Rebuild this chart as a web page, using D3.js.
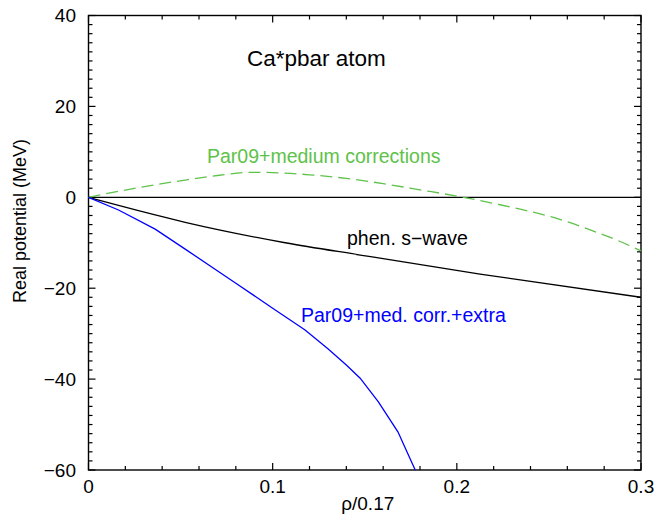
<!DOCTYPE html>
<html>
<head>
<meta charset="utf-8">
<script src="https://cdn.jsdelivr.net/npm/d3@7/dist/d3.min.js"></script>
<style>
  html, body { margin: 0; padding: 0; background: #fff; }
  svg text { font-family: "Liberation Sans", Arial, Helvetica, sans-serif; }
</style>
</head>
<body>
<svg id="chart" width="658" height="524"></svg>
<script>
// Real part of the antiproton optical potential for Ca, versus relative density
const xTicks = [0, 0.1, 0.2, 0.3];
const yTicks = [-60, -40, -20, 0, 20, 40];

const phenRho = [0, 0.0163, 0.0525, 0.1068, 0.1475, 0.2126, 0.3];
const phenV   = [0, -1.8, -5.5, -10.0, -12.7, -16.9, -22.0];

const medRho = [0, 0.02, 0.04, 0.0525, 0.07, 0.0887, 0.105, 0.12, 0.14, 0.16, 0.18, 0.2036, 0.22, 0.2344, 0.255, 0.2742, 0.29, 0.3];
const medV   = [0, 1.6, 3.0, 3.8, 4.8, 5.5, 5.35, 4.95, 4.15, 3.0, 1.65, 0, -1.35, -2.6, -4.75, -7.45, -9.95, -11.8];

const extraRho = [0, 0.0163, 0.0362, 0.0525, 0.0796, 0.1, 0.1176, 0.13, 0.14, 0.1475, 0.1574, 0.168, 0.1774];
const extraV   = [0, -2.8, -7.0, -11.4, -18.8, -24.4, -29.2, -33.3, -36.9, -39.8, -45.0, -51.6, -60];

const svg = d3.select("#chart");
const m = { left: 88.5, top: 15.5, right: 641, bottom: 470 };

const x = d3.scaleLinear().domain([0, 0.3]).range([m.left, m.right]);
const y = d3.scaleLinear().domain([-60, 40]).range([m.bottom, m.top]);

const W = m.right - m.left, H = m.bottom - m.top;

// plot frame
svg.append("rect")
  .attr("x", m.left).attr("y", m.top)
  .attr("width", W).attr("height", H)
  .attr("fill", "none").attr("stroke", "#000").attr("stroke-width", 1.4);

// inward ticks on all four sides
const xMinor = d3.range(0, 0.3001, 0.02);
const yMinor = d3.range(-60, 40.001, 2);
const tk = svg.append("g").attr("stroke", "#000").attr("stroke-width", 1.2);
xMinor.forEach(v => {
  const major = xTicks.some(t => Math.abs(t - v) < 1e-9);
  const len = major ? 7 : 4;
  tk.append("line").attr("x1", x(v)).attr("x2", x(v)).attr("y1", m.bottom).attr("y2", m.bottom - len);
  tk.append("line").attr("x1", x(v)).attr("x2", x(v)).attr("y1", m.top).attr("y2", m.top + len);
});
yMinor.forEach(v => {
  const major = yTicks.some(t => Math.abs(t - v) < 1e-9);
  const len = major ? 7 : 4;
  tk.append("line").attr("x1", m.left).attr("x2", m.left + len).attr("y1", y(v)).attr("y2", y(v));
  tk.append("line").attr("x1", m.right).attr("x2", m.right - len).attr("y1", y(v)).attr("y2", y(v));
});

// tick labels
const fmtY = v => (v < 0 ? "\u2212" + Math.abs(v) : String(v));
svg.append("g").selectAll("text").data(yTicks).join("text")
  .attr("x", 76).attr("y", d => y(d)).attr("dy", "0.35em")
  .attr("text-anchor", "end").attr("font-size", 19).attr("fill", "#000")
  .text(fmtY);
svg.append("g").selectAll("text").data(xTicks).join("text")
  .attr("x", d => x(d)).attr("y", 493)
  .attr("text-anchor", "middle").attr("font-size", 19).attr("fill", "#000")
  .text(d => d === 0 ? "0" : d3.format(".1f")(d));

// axis titles
svg.append("text")
  .attr("x", (m.left + m.right) / 2 + 3).attr("y", 510)
  .attr("text-anchor", "middle").attr("font-size", 19).text("\u03c1/0.17");
svg.append("text")
  .attr("transform", "translate(26,221) rotate(-90)")
  .attr("text-anchor", "middle").attr("font-size", 18).text("Real potential (MeV)");

// zero line
svg.append("line")
  .attr("x1", x(0)).attr("x2", x(0.3)).attr("y1", y(0)).attr("y2", y(0))
  .attr("stroke", "#000").attr("stroke-width", 1.3);

const zip = (a, b) => a.map((v, i) => [v, b[i]]);
const smooth = d3.line().x(d => x(d[0])).y(d => y(d[1])).curve(d3.curveMonotoneX);
const straight = d3.line().x(d => x(d[0])).y(d => y(d[1]));

svg.append("path").datum(zip(phenRho, phenV))
  .attr("d", smooth)
  .attr("fill", "none").attr("stroke", "#000").attr("stroke-width", 1.3);

svg.append("path").datum(zip(medRho, medV))
  .attr("d", smooth)
  .attr("fill", "none").attr("stroke", "#5ec24a").attr("stroke-width", 1.3)
  .attr("stroke-dasharray", "12,6");

svg.append("path").datum(zip(extraRho, extraV))
  .attr("d", straight)
  .attr("fill", "none").attr("stroke", "#0000ff").attr("stroke-width", 1.3);

// curve labels and title
svg.append("text").attr("x", 247).attr("y", 66).attr("font-size", 22.5).attr("fill", "#000").text("Ca*pbar atom");
svg.append("text").attr("x", 207).attr("y", 163).attr("font-size", 19.5).attr("fill", "#5ec24a").text("Par09+medium corrections");
svg.append("text").attr("x", 347).attr("y", 245).attr("font-size", 19.5).attr("fill", "#000").text("phen. s\u2212wave");
svg.append("text").attr("x", 301).attr("y", 322).attr("font-size", 19.5).attr("fill", "#0000ff").text("Par09+med. corr.+extra");
</script>
</body>
</html>
